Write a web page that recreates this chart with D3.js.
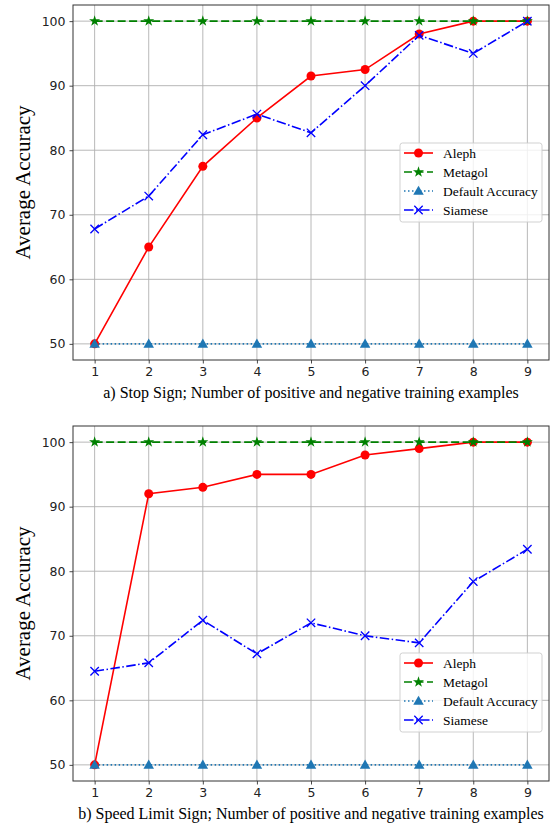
<!DOCTYPE html>
<html>
<head>
<meta charset="utf-8">
<script src="https://cdn.jsdelivr.net/npm/d3@7"></script>
<style>
  body { margin: 0; background: #ffffff; }
  svg { display: block; }
</style>
</head>
<body>
<div id="vis"></div>
<script>
// training examples on x
var examples = [1, 2, 3, 4, 5, 6, 7, 8, 9];
var yTicks = [50, 60, 70, 80, 90, 100];
var seriesNames = ["Aleph", "Metagol", "Default Accuracy", "Siamese"];

// a) stop sign
var stopAleph = [50, 65, 77.5, 85, 91.5, 92.5, 98, 100, 100];
var stopMetagol = [100, 100, 100, 100, 100, 100, 100, 100, 100];
var stopDefault = [50, 50, 50, 50, 50, 50, 50, 50, 50];
var stopSiamese = [67.8, 72.9, 82.4, 85.6, 82.7, 90, 97.8, 95, 100];

// b) speed limit sign
var speedAleph = [50, 92, 93, 95, 95, 98, 99, 100, 100];
var speedMetagol = [100, 100, 100, 100, 100, 100, 100, 100, 100];
var speedDefault = [50, 50, 50, 50, 50, 50, 50, 50, 50];
var speedSiamese = [64.5, 65.8, 72.4, 67.2, 72, 70, 68.9, 78.4, 83.4];

var W = 553, H = 828;
var serif = "'Liberation Serif', serif";
var sans = "'DejaVu Sans', sans-serif";

var svg = d3.select("#vis").append("svg")
    .attr("width", W)
    .attr("height", H);

// style per series, same order as seriesNames
var styles = [
  { color: "#ff0000", dash: null, marker: "circle" },
  { color: "#008000", dash: "8,3.5", marker: "star" },
  { color: "#1f77b4", dash: "1.5,2.5", marker: "triangle" },
  { color: "#0000ff", dash: "9.5,2.5,1.5,2.5", marker: "x" }
];

function drawMarker(g, type, color, cx, cy) {
  if (type === "circle") {
    g.append("circle").attr("cx", cx).attr("cy", cy).attr("r", 4.5).attr("fill", color);
  } else if (type === "star") {
    g.append("path")
      .attr("d", d3.symbol().type(d3.symbolStar).size(38)())
      .attr("transform", "translate(" + cx + "," + cy + ")")
      .attr("fill", color);
  } else if (type === "triangle") {
    g.append("path")
      .attr("d", d3.symbol().type(d3.symbolTriangle).size(48)())
      .attr("transform", "translate(" + cx + "," + (cy + 0.8) + ")")
      .attr("fill", color);
  } else {
    var s = 4.2;
    g.append("path")
      .attr("d", "M" + (cx - s) + "," + (cy - s) + "L" + (cx + s) + "," + (cy + s) +
                 "M" + (cx - s) + "," + (cy + s) + "L" + (cx + s) + "," + (cy - s))
      .attr("stroke", color)
      .attr("stroke-width", 1.3)
      .attr("fill", "none");
  }
}

function drawPanel(top, legendTop, series, caption) {
  var left = 73, right = 549, bottom = top + 355;

  var x = d3.scaleLinear().domain([0.6, 9.4]).range([left, right]);
  var y = d3.scaleLinear().domain([47.5, 102.5]).range([bottom, top]);

  var g = svg.append("g");

  // grid
  g.append("g").selectAll("line").data(examples).enter().append("line")
      .attr("x1", d => x(d)).attr("x2", d => x(d))
      .attr("y1", top).attr("y2", bottom)
      .attr("stroke", "#b0b0b0").attr("stroke-width", 0.9);
  g.append("g").selectAll("line").data(yTicks).enter().append("line")
      .attr("x1", left).attr("x2", right)
      .attr("y1", d => y(d)).attr("y2", d => y(d))
      .attr("stroke", "#b0b0b0").attr("stroke-width", 0.9);

  // axes
  var xAxis = g.append("g")
      .attr("transform", "translate(0," + bottom + ")")
      .call(d3.axisBottom(x).tickValues(examples).tickSize(3.5).tickPadding(4));
  var yAxis = g.append("g")
      .attr("transform", "translate(" + left + ",0)")
      .call(d3.axisLeft(y).tickValues(yTicks).tickSize(3.5).tickPadding(4));
  [xAxis, yAxis].forEach(function (a) {
    a.attr("font-family", null).attr("font-size", null);
    a.select(".domain").remove();
    a.selectAll("text").style("font-family", sans).style("font-size", "12.5px").attr("fill", "#222");
    a.selectAll("line").attr("stroke", "#333").attr("stroke-width", 0.9);
  });

  // lines + markers
  series.forEach(function (vals, i) {
    var st = styles[i];
    var line = d3.line().x((d, j) => x(examples[j])).y(d => y(d));
    g.append("path")
      .datum(vals)
      .attr("d", line)
      .attr("fill", "none")
      .attr("stroke", st.color)
      .attr("stroke-width", 1.6)
      .attr("stroke-dasharray", st.dash);
    var mg = g.append("g");
    vals.forEach(function (v, j) {
      drawMarker(mg, st.marker, st.color, x(examples[j]), y(v));
    });
  });

  // frame
  g.append("rect")
      .attr("x", left).attr("y", top)
      .attr("width", right - left).attr("height", bottom - top)
      .attr("fill", "none").attr("stroke", "#333").attr("stroke-width", 1);

  // y label
  g.append("text")
      .attr("transform", "translate(29.5," + ((top + bottom) / 2) + ") rotate(-90)")
      .attr("text-anchor", "middle")
      .style("font-family", serif)
      .style("font-size", "21px")
      .text("Average Accuracy");

  // caption
  g.append("text")
      .attr("x", 311)
      .attr("y", bottom + 38)
      .attr("text-anchor", "middle")
      .style("font-family", serif)
      .style("font-size", "16px")
      .text(caption);

  // legend
  var lx = 400, ly = legendTop;
  var leg = g.append("g");
  leg.append("rect")
      .attr("x", lx).attr("y", ly)
      .attr("width", 142).attr("height", 79)
      .attr("rx", 2.5)
      .attr("fill", "rgba(255,255,255,0.8)")
      .attr("stroke", "#cccccc").attr("stroke-width", 0.9);
  seriesNames.forEach(function (name, i) {
    var st = styles[i];
    var ry = ly + 10 + i * 19;
    leg.append("line")
        .attr("x1", lx + 4).attr("x2", lx + 33)
        .attr("y1", ry).attr("y2", ry)
        .attr("stroke", st.color).attr("stroke-width", 1.6)
        .attr("stroke-dasharray", st.dash);
    drawMarker(leg, st.marker, st.color, lx + 18.5, ry);
    leg.append("text")
        .attr("x", lx + 43).attr("y", ry + 4.5)
        .style("font-family", serif)
        .style("font-size", "13.5px")
        .text(name);
  });
}

drawPanel(5, 143, [stopAleph, stopMetagol, stopDefault, stopSiamese],
  "a) Stop Sign; Number of positive and negative training examples");
drawPanel(426, 653, [speedAleph, speedMetagol, speedDefault, speedSiamese],
  "b) Speed Limit Sign; Number of positive and negative training examples");
</script>
</body>
</html>
